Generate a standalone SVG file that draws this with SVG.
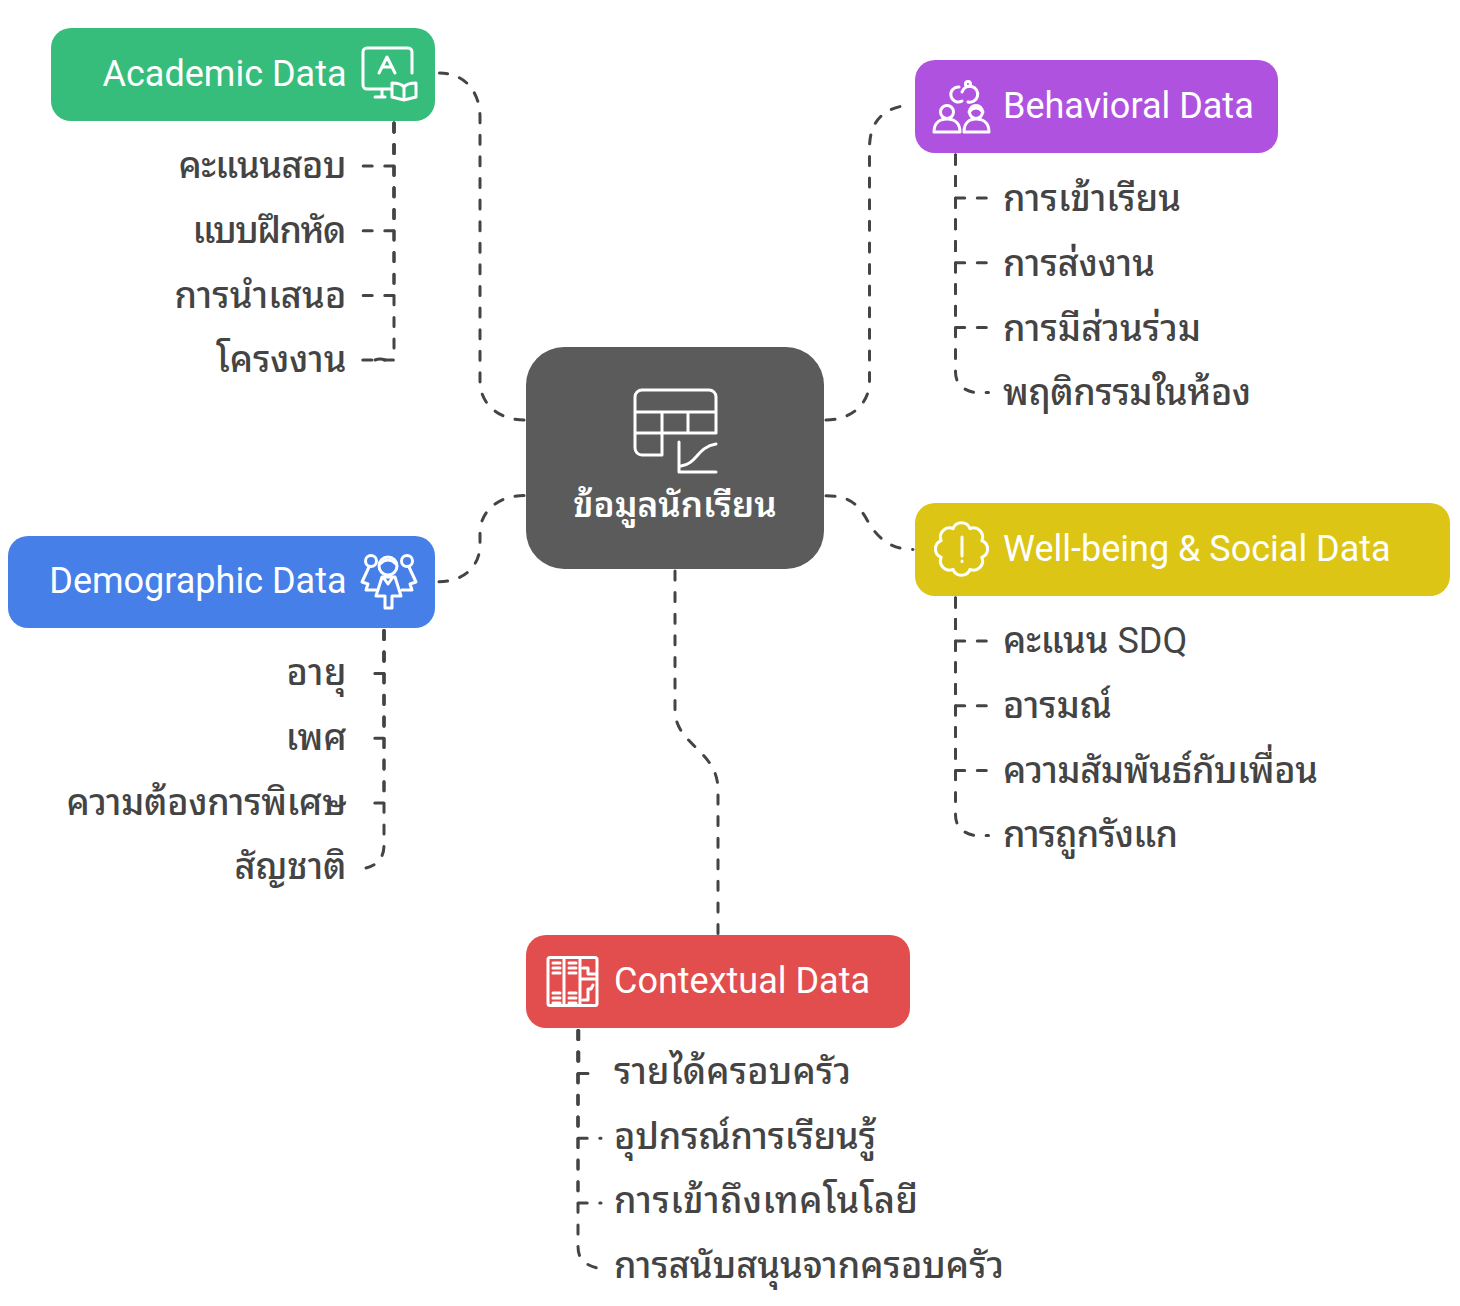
<svg xmlns="http://www.w3.org/2000/svg" width="1460" height="1306" viewBox="0 0 1460 1306">
<style>
text{font-family:Roboto,"Noto Sans Thai Looped","Noto Sans",sans-serif;font-size:36px}
.h{fill:#fff}
.c{fill:#444;font-weight:500}
.e{text-anchor:end}
.ic{fill:none;stroke:#fff;stroke-width:3;stroke-linecap:round;stroke-linejoin:round}
#connectors path{fill:none;stroke:#444;stroke-width:3;stroke-linecap:round;stroke-dasharray:9 12.6}
#connectors path.s{stroke-dasharray:none}
</style>
<rect width="1460" height="1306" fill="#fff"/>
<g id="connectors">
<path d="M524 420C500 420 480 405 480 381V117C480 92 465 73 439.500 73"/>
<path d="M394 123V166H362"/>
<path d="M394 123V230.800H362"/>
<path d="M394 123V295.600H362"/>
<path d="M394 123V360H362"/>
<path class="s" d="M385 360Q380 358 375 360"/>
<path d="M826 420C850 420 869.500 405 869.500 381V148C869.500 125 880 110 903 106"/>
<path d="M955.500 155V198H988"/>
<path d="M955.500 155V262.800H988"/>
<path d="M955.500 155V327.600H988"/>
<path d="M955.500 155V372C955.500 385 965 391 975 392.500H988.500"/>
<path d="M826 495.700C850 495.700 858 505 866 518C875 535 888 549.500 913 549.500"/>
<path d="M955.500 598V641H988"/>
<path d="M955.500 598V705.800H988"/>
<path d="M955.500 598V770.600H988"/>
<path d="M955.500 598V815C955.500 828 965 834 975 835.500H988.500"/>
<path d="M524 495.500C500 495.500 480 510 480 533V545C480 565 465 581.700 439 581.700"/>
<path d="M384 630.500V673.500H374"/>
<path d="M384 630.500V738.300H374"/>
<path d="M384 630.500V803.100H374"/>
<path d="M384 630.500V845C384 857 378 865 366 868"/>
<path d="M675 571V710C675 745 718 750 718 790V934"/>
<path d="M578.800 1030.500V1073.500H589"/>
<path d="M578 1030.500V1138.300H601"/>
<path d="M578 1030.500V1203.100H601"/>
<path d="M578 1030.500V1246C578 1258 583 1264 597 1268"/>
</g>
<g id="center">
<rect x="526" y="347" width="298" height="222" rx="38" fill="#5b5b5b"/>
<g class="ic"><path d="M662 455H642a7 7 0 0 1-7-7V397a7 7 0 0 1 7-7H709a7 7 0 0 1 7 7V433H635M635 412H716M662 412V455M688 412V433M679 442V472H716M681 466C697 464 697 447 716 444"/></g>
<text x="675" y="517" text-anchor="middle" class="h" style="font-weight:600;font-size:35px">ข้อมูลนักเรียน</text>
</g>
<g id="academic">
<rect x="51" y="28" width="384" height="93" rx="20" fill="#36bd7b"/>
<text x="346.500" y="86" class="h e">Academic Data</text>
<g class="ic"><path d="M390 89H367a4 4 0 0 1-4-4V52a4 4 0 0 1 4-4H408a4 4 0 0 1 4 4V73M382 89V97M375 97H385M379 73L387 57L395 73M382 67H392M404 87C401 83 396 83 392 83V97L404 100L416 97V83C412 83 407 83 404 87V100"/></g>
</g>
<g id="academic-items">
<text x="346.500" y="178" class="c e" textLength="168">คะแนนสอบ</text>
<text x="346.500" y="243" class="c e" textLength="154">แบบฝึกหัด</text>
<text x="346.500" y="308" class="c e" textLength="172">การนำเสนอ</text>
<text x="346.500" y="372" class="c e">โครงงาน</text>
</g>
<g id="behavioral">
<rect x="915" y="60" width="363" height="93" rx="20" fill="#b052e0"/>
<text x="1003" y="118" class="h">Behavioral Data</text>
<g class="ic"><path d="M959 87A7.500 7.500 0 1 0 962 101M962 92A8 8 0 1 1 968 102"/><circle cx="968" cy="84" r="2.500"/><circle cx="947" cy="112" r="6.500"/><path d="M934 132C934 122 941 119 947 119C953 119 960 122 960 132Z"/><circle cx="976" cy="112" r="6.500"/><path d="M964 132C964 122 970 119 976 119C982 119 989 122 989 132Z"/><path d="M969 112Q976 104 983 112"/></g>
</g>
<g id="behavioral-items">
<text x="1003" y="211" class="c" textLength="178">การเข้าเรียน</text>
<text x="1003" y="276" class="c">การส่งงาน</text>
<text x="1003" y="341" class="c" textLength="198">การมีส่วนร่วม</text>
<text x="1003" y="405" class="c" textLength="248">พฤติกรรมในห้อง</text>
</g>
<g id="wellbeing">
<rect x="915" y="503" width="535" height="93" rx="20" fill="#dcc514"/>
<text x="1003" y="561" class="h">Well-being &amp; Social Data</text>
<g class="ic"><path d="M970 528.700A9 9 0 0 1 981.800 540.600A9 9 0 0 1 981.800 557.400A9 9 0 0 1 970 569.300A9 9 0 0 1 953 569.300A9 9 0 0 1 941.200 557.400A9 9 0 0 1 941.200 540.600A9 9 0 0 1 953 528.700A9 9 0 0 1 970 528.700ZM962 537V556M962 561V561.500"/></g>
</g>
<g id="wellbeing-items">
<text x="1003" y="653" class="c">คะแนน <tspan style="font-weight:400">SDQ</tspan></text>
<text x="1003" y="718" class="c">อารมณ์</text>
<text x="1003" y="783" class="c" textLength="315">ความสัมพันธ์กับเพื่อน</text>
<text x="1003" y="847" class="c" textLength="175">การถูกรังแก</text>
</g>
<g id="demographic">
<rect x="8" y="536" width="427" height="92" rx="20" fill="#467fe8"/>
<text x="346.500" y="593" class="h e">Demographic Data</text>
<g class="ic"><circle cx="371" cy="561" r="5.500"/><circle cx="407" cy="561" r="5.500"/><circle cx="388" cy="566" r="9"/><path d="M380 564Q388 556 396 564M369 567L362 582L368 584L366 590L376 590M409 567L416 582L410 584L412 590L402 590M382 577L376 596H385V608H392V596H401L395 577ZM383 577L388 584L393 577"/></g>
</g>
<g id="demographic-items">
<text x="346.500" y="685" class="c e" textLength="60">อายุ</text>
<text x="346.500" y="750" class="c e">เพศ</text>
<text x="346.500" y="815" class="c e" textLength="280">ความต้องการพิเศษ</text>
<text x="346.500" y="879" class="c e">สัญชาติ</text>
</g>
<g id="contextual">
<rect x="526" y="935" width="384" height="93" rx="20" fill="#e24d4d"/>
<text x="614" y="993" class="h">Contextual Data</text>
<g class="ic"><rect x="548" y="957.500" width="49" height="48" rx="2"/><path d="M564 958V1005M580 958V1005M553 963H560M553 968H560M553 973H560M553 993H560M553 998H560M553 1003H560M569 963H576M569 968H576M569 973H576M569 993H576M569 998H576M569 1003H576M583 968H588V974H596M581 979H596M583 1000H588V989H591L593 985"/></g>
</g>
<g id="contextual-items">
<text x="614" y="1084" class="c" textLength="237">รายได้ครอบครัว</text>
<text x="614" y="1149" class="c" textLength="262">อุปกรณ์การเรียนรู้</text>
<text x="614" y="1213" class="c" textLength="304">การเข้าถึงเทคโนโลยี</text>
<text x="614" y="1278" class="c" textLength="390">การสนับสนุนจากครอบครัว</text>
</g>
</svg>
